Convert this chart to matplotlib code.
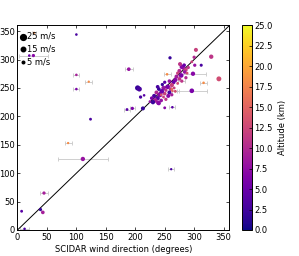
import matplotlib
matplotlib.use("Agg")
import matplotlib.pyplot as plt
import numpy as np

# SCIDAR direction (deg), other direction (deg), altitude (km), wind speed (m/s), x error (deg)
scidar_dir = [100, 20, 27, 28, 100, 121, 100, 189, 124, 204, 207, 209, 215, 186, 195, 213,
              86, 111, 45, 7, 39, 43, 12, 261, 303, 329, 259, 300, 312, 301, 342, 316,
              296, 250, 263, 298, 254, 225,
              282, 286, 279, 290, 275, 284, 272, 278, 288, 296, 270, 275, 268, 279, 272,
              265, 262, 258, 266, 255, 260, 252, 258, 248, 250, 245, 262, 240, 242, 248,
              236, 238, 244, 232, 234, 228, 230, 252, 256, 246, 238, 239, 240, 263, 268,
              250, 286, 283, 276, 262, 244]
other_dir = [344, 307, 307, 347, 273, 261, 248, 283, 195, 250, 248, 234, 237, 212, 214, 214,
             153, 125, 65, 33, 36, 31, 2, 107, 317, 305, 303, 304, 290, 290, 266, 259,
             245, 215, 216, 275, 274, 226,
             285, 282, 287, 286, 280, 278, 276, 272, 276, 296, 270, 266, 264, 262, 258,
             260, 255, 262, 250, 252, 248, 246, 242, 250, 240, 244, 238, 248, 238, 234,
             242, 232, 228, 236, 228, 232, 225, 230, 236, 256, 252, 224, 223, 245, 244,
             260, 268, 290, 292, 248, 238]
altitude = [3, 5, 7, 18, 9, 18, 6, 8, 3, 2, 3, 3, 4, 4, 6, 2,
            18, 8, 9, 4, 2, 9, 3, 3, 12, 11, 2, 10, 3, 8, 13, 18,
            6, 7, 4, 7, 18, 8,
            9, 12, 7, 11, 10, 8, 12, 6, 13, 12, 9, 11, 7, 11, 13,
            5, 12, 8, 12, 6, 10, 11, 3, 8, 12, 5, 9, 2, 7, 12,
            10, 4, 8, 3, 9, 6, 2, 11, 7, 2, 3, 8, 7, 15, 13,
            4, 10, 5, 11, 16, 14]
speed = [5, 5, 8, 4, 5, 4, 5, 10, 6, 20, 18, 8, 5, 6, 8, 12,
         4, 14, 8, 6, 8, 10, 5, 4, 12, 14, 8, 8, 7, 8, 18, 5,
         16, 6, 5, 14, 5, 6,
         12, 10, 14, 8, 12, 10, 8, 16, 6, 6, 12, 10, 14, 8, 6,
         12, 14, 10, 6, 16, 10, 8, 12, 14, 10, 16, 8, 10, 18, 6,
         12, 14, 10, 12, 16, 10, 14, 8, 12, 8, 10, 14, 12, 5, 6,
         8, 8, 10, 12, 5, 5]
x_err = [0, 0, 24, 3, 5, 6, 5, 7, 0, 0, 0, 0, 0, 5, 4, 0,
         6, 43, 7, 0, 0, 0, 8, 5, 0, 0, 0, 0, 0, 0, 0, 6,
         25, 0, 5, 22, 6, 0,
         0, 0, 0, 0, 0, 0, 0, 0, 0, 0, 0, 0, 0, 6, 0,
         0, 0, 0, 0, 0, 0, 0, 0, 0, 0, 0, 0, 0, 0, 0,
         0, 0, 0, 0, 0, 0, 0, 0, 0, 0, 0, 0, 0, 0, 6,
         0, 0, 0, 0, 0, 0]

legend_speeds = [25, 15, 5]

plt.rcParams["font.size"] = 6
plt.rcParams["xtick.direction"] = "in"
plt.rcParams["ytick.direction"] = "in"
plt.rcParams["xtick.top"] = True
plt.rcParams["ytick.right"] = True

fig = plt.figure(figsize=(2.99, 2.56), dpi=100)
ax = fig.add_axes([0.0585, 0.1016, 0.709, 0.799])

xs = np.array(scidar_dir)
ys = np.array(other_dir)
errs = np.array(x_err)
has_err = errs > 0
ax.errorbar(xs[has_err], ys[has_err], xerr=errs[has_err], fmt="none",
            ecolor="#c8c8c8", elinewidth=0.6, capsize=1.2, capthick=0.6, zorder=1)

ax.plot([0, 360], [0, 360], color="black", lw=0.7, zorder=2)

size_scale = 0.7
sc = ax.scatter(xs, ys, c=altitude, s=np.array(speed) * size_scale, cmap="plasma",
                vmin=0, vmax=25, linewidths=0, zorder=3)

for sp in legend_speeds:
    ax.scatter([], [], s=sp * size_scale, color="black", label=f"{sp} m/s")
ax.legend(loc="upper left", bbox_to_anchor=(0.004, 0.977), frameon=False, fontsize=6,
          handletextpad=0.0, handlelength=0.8, labelspacing=0.45, borderaxespad=0.0,
          borderpad=0.2, scatterpoints=1)

ax.set_xlim(0, 360)
ax.set_ylim(0, 360)
ax.set_xticks([0, 50, 100, 150, 200, 250, 300, 350])
ax.set_yticks([0, 50, 100, 150, 200, 250, 300, 350])
ax.tick_params(length=2.5, width=0.5, pad=2, labelsize=6)
for s in ax.spines.values():
    s.set_linewidth(0.7)
ax.set_xlabel("SCIDAR wind direction (degrees)", fontsize=6, labelpad=2)

cax = fig.add_axes([0.808, 0.1016, 0.0334, 0.799])
cb = fig.colorbar(sc, cax=cax, ticks=np.arange(0, 25.1, 2.5), format="%.1f")
cb.set_label("Altitude (km)", fontsize=6)
cb.ax.tick_params(length=2, width=0.5, labelsize=6, direction="in", pad=2)
cb.outline.set_linewidth(0.7)

fig.savefig("out.png", dpi=100)
